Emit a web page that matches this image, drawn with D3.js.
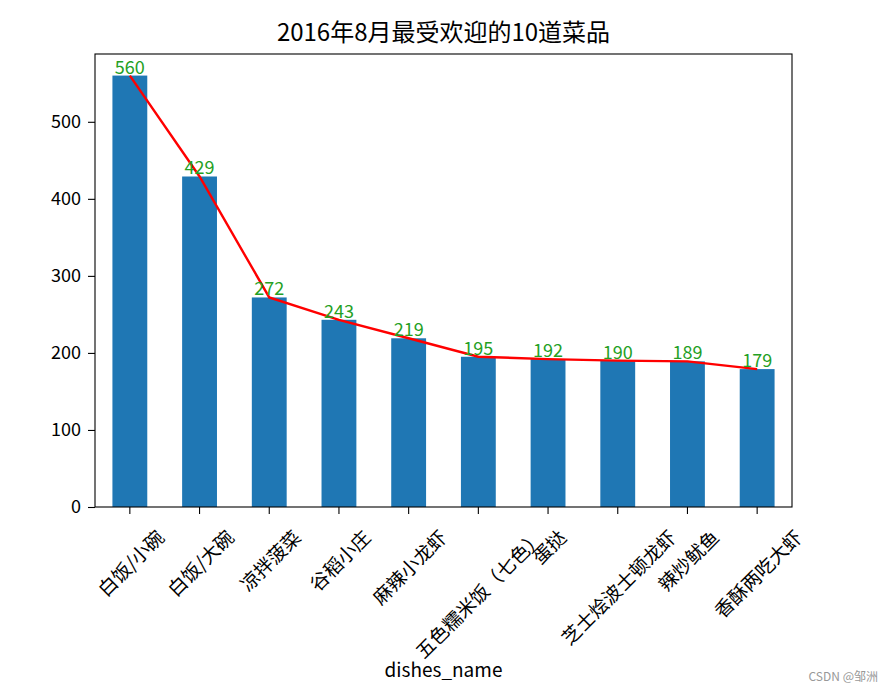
<!DOCTYPE html>
<html>
<head>
<meta charset="utf-8">
<script src="https://cdn.jsdelivr.net/npm/d3@7/dist/d3.min.js"></script>
<style>
  html, body { margin: 0; padding: 0; background: #fff; }
  svg { display: block; }
  text { font-family: "Noto Sans CJK SC", "DejaVu Sans", sans-serif; }
</style>
</head>
<body>
<svg id="chart" width="888" height="693"></svg>
<script>
const categories = ["白饭/小碗", "白饭/大碗", "凉拌菠菜", "谷稻小庄", "麻辣小龙虾",
                    "五色糯米饭（七色）", "蛋挞", "芝士烩波士顿龙虾", "辣炒鱿鱼", "香酥两吃大虾"];
const counts = [560, 429, 272, 243, 219, 195, 192, 190, 189, 179];
const yTicks = [0, 100, 200, 300, 400, 500];
const titleText = "2016年8月最受欢迎的10道菜品";
const xLabelText = "dishes_name";

const svg = d3.select("#chart");
const mLeft = 95, mRight = 792, mTop = 54, mBottom = 507;

const x = d3.scaleBand().domain(categories).range([mLeft, mRight])
  .paddingInner(0.5).paddingOuter(0.25);
const xc = d => x(d) + x.bandwidth() / 2;
const y = d3.scaleLinear().domain([0, d3.max(counts) * 1.05]).range([mBottom, mTop]);

// bars
svg.append("g").selectAll("rect").data(categories).join("rect")
  .attr("x", d => x(d)).attr("width", x.bandwidth())
  .attr("y", (d, i) => y(counts[i])).attr("height", (d, i) => mBottom - y(counts[i]))
  .attr("fill", "#1f77b4");

// line
const line = d3.line().x((d, i) => xc(categories[i])).y(d => y(d));
svg.append("path").datum(counts).attr("d", line)
  .attr("fill", "none").attr("stroke", "#ff0000").attr("stroke-width", 2.4);

// value labels
svg.append("g").selectAll("text").data(counts).join("text")
  .attr("x", (d, i) => xc(categories[i])).attr("y", d => y(d) - 2)
  .attr("text-anchor", "middle").attr("font-size", 18)
  .attr("fill", "#24a024").text(d => d);

// axes frame
svg.append("rect").attr("x", mLeft).attr("y", mTop).attr("width", mRight - mLeft)
  .attr("height", mBottom - mTop).attr("fill", "none").attr("stroke", "#000").attr("stroke-width", 1.1);

// y axis
const yAxis = d3.axisLeft(y).tickValues(yTicks).tickSize(7).tickPadding(7).tickFormat(d3.format("d"));
const gy = svg.append("g").attr("transform", `translate(${mLeft},0)`).call(yAxis);
gy.select(".domain").remove();
gy.selectAll("line").attr("stroke", "#000").attr("stroke-width", 1.1);
gy.selectAll("text").attr("font-size", 18).attr("fill", "#000")
  .attr("font-family", "Noto Sans CJK SC");

// x axis
const xAxis = d3.axisBottom(x).tickSize(7).tickFormat("");
const gx = svg.append("g").attr("transform", `translate(0,${mBottom})`).call(xAxis);
gx.select(".domain").remove();
gx.selectAll("line").attr("stroke", "#000").attr("stroke-width", 1.1);

// rotated x tick labels
const fs = 19;
const labelTop = mBottom + 7 + 11;
const lg = svg.append("g");
categories.forEach(c => {
  const t = lg.append("text").attr("font-size", fs).attr("text-anchor", "middle")
    .attr("dominant-baseline", "central").attr("fill", "#000").text(c);
  const w = t.node().getComputedTextLength();
  const h = fs * 1.15;
  const side = (w + h) / Math.SQRT2;
  const cx = xc(c), cy = labelTop + side / 2;
  t.attr("transform", `translate(${cx},${cy}) rotate(-45)`);
});

// title
svg.append("text").attr("x", (mLeft + mRight) / 2).attr("y", 41)
  .attr("text-anchor", "middle").attr("font-size", 24).attr("fill", "#000").text(titleText);

// x label
svg.append("text").attr("x", (mLeft + mRight) / 2).attr("y", 677)
  .attr("text-anchor", "middle").attr("font-size", 19).attr("fill", "#000").text(xLabelText);

// watermark
svg.append("text").attr("x", 878).attr("y", 681).attr("text-anchor", "end")
  .attr("font-size", 12).attr("fill", "#999").text("CSDN @邹洲");
</script>
</body>
</html>
